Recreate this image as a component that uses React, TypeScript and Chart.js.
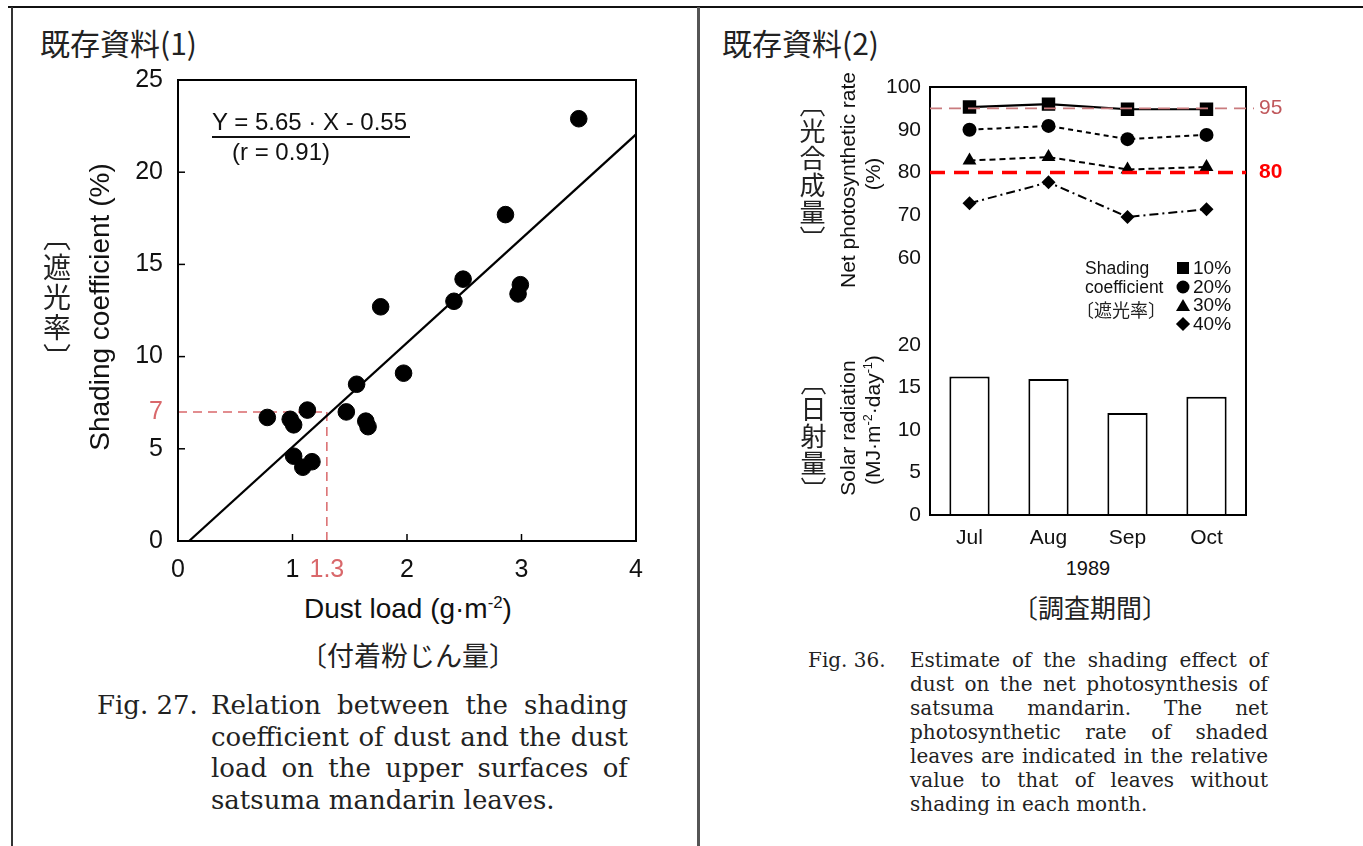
import React, { useEffect, useRef } from "react";
import { Chart, registerables } from "chart.js";

Chart.register(...registerables);

const SANS = '"Liberation Sans", Arial, Helvetica, sans-serif';
const SERIF = '"DejaVu Serif", "Liberation Serif", serif';
const CJK = '"Noto Sans CJK JP", "Noto Sans CJK SC", sans-serif';

// ---------- Fig. 27 (left) data ----------
const dustLoad = [0.78, 0.98, 1.01, 1.13, 1.01, 1.09, 1.17, 1.47, 1.56, 1.64, 1.66, 1.77, 1.97, 2.41, 2.49, 2.97, 2.99, 2.86, 3.5];
const shadingCoef = [6.7, 6.6, 6.3, 7.1, 4.6, 4.0, 4.3, 7.0, 8.5, 6.5, 6.2, 12.7, 9.1, 13.0, 14.2, 13.4, 13.9, 17.7, 22.9];
const regLineX = [0.097, 4.0];
const regLineY = [0.0, 22.05];
const guideX = 1.3;
const guideY = 7;
const dustTicks = [0, 1, 1.3, 2, 3, 4];
const shadeTicks = [0, 5, 7, 10, 15, 20, 25];

// ---------- Fig. 36 (right) data ----------
const months = ["Jul", "Aug", "Sep", "Oct"];
const rate10 = [95.3, 96.0, 94.8, 94.8];
const rate20 = [90.0, 90.9, 87.8, 88.8];
const rate30 = [82.8, 83.6, 80.7, 81.3];
const rate40 = [72.8, 77.7, 69.6, 71.4];
const solarRadiation = [16.3, 16.0, 12.0, 13.9];
const rateTicks = [60, 70, 80, 90, 100];
const solarTicks = [0, 5, 10, 15, 20];
const refLevels = [95, 80];
const refLabels = ["95", "80"];

const GUIDE_RED = "#d9686b";
const refStyles = [
  { color: "#c97b7e", text: "#c0585c", width: 1.6, dash: [12, 7], extend: 8, bold: false },
  { color: "#ff0000", text: "#ff0000", width: 3.5, dash: [15, 9], extend: 0, bold: true },
];

const leftDecor = {
  id: "leftDecor",
  afterDatasetsDraw(chart: any) {
    const { ctx, chartArea: a, scales } = chart;
    ctx.save();
    ctx.strokeStyle = "#000";
    ctx.lineWidth = 1.5;
    dustTicks
      .filter((v) => Number.isInteger(v) && v > 0 && v < 4)
      .forEach((v) => {
        const x = scales.x.getPixelForValue(v);
        ctx.beginPath();
        ctx.moveTo(x, a.bottom);
        ctx.lineTo(x, a.bottom - 7);
        ctx.stroke();
      });
    shadeTicks
      .filter((v) => v % 5 === 0 && v > 0 && v < 25)
      .forEach((v) => {
        const y = scales.y.getPixelForValue(v);
        ctx.beginPath();
        ctx.moveTo(a.left, y);
        ctx.lineTo(a.left + 7, y);
        ctx.stroke();
      });
    ctx.lineWidth = 2;
    ctx.strokeRect(a.left, a.top, a.right - a.left, a.bottom - a.top);
    ctx.restore();
  },
};

const rightDecor = {
  id: "rightDecor",
  afterDatasetsDraw(chart: any) {
    const { ctx, chartArea: a } = chart;
    const yTop = chart.scales.yTop;
    ctx.save();
    ctx.strokeStyle = "#000";
    ctx.lineWidth = 2;
    ctx.strokeRect(a.left, a.top, a.right - a.left, a.bottom - a.top);
    refLevels.forEach((v, i) => {
      const st = refStyles[i];
      const y = yTop.getPixelForValue(v);
      ctx.beginPath();
      ctx.setLineDash(st.dash);
      ctx.strokeStyle = st.color;
      ctx.lineWidth = st.width;
      ctx.moveTo(a.left, y);
      ctx.lineTo(a.right + st.extend, y);
      ctx.stroke();
      ctx.setLineDash([]);
      ctx.fillStyle = st.text;
      ctx.font = `${st.bold ? "bold " : ""}21px ${SANS}`;
      ctx.textBaseline = "middle";
      ctx.textAlign = "left";
      ctx.fillText(refLabels[i], a.right + 13, y);
    });
    ctx.restore();
  },
};

function LeftChart() {
  const ref = useRef<HTMLCanvasElement>(null);
  useEffect(() => {
    const el = ref.current;
    if (!el) return;
    const chart = new Chart(el, {
      type: "scatter",
      data: {
        datasets: [
          {
            label: "points",
            data: dustLoad.map((x, i) => ({ x, y: shadingCoef[i] })),
            backgroundColor: "#000",
            borderColor: "#000",
            pointRadius: 8.3,
            pointHoverRadius: 8.3,
          },
          {
            label: "regression",
            data: regLineX.map((x, i) => ({ x, y: regLineY[i] })),
            showLine: true,
            borderColor: "#000",
            borderWidth: 2.2,
            pointRadius: 0,
          },
          {
            label: "guideH",
            data: [
              { x: 0, y: guideY },
              { x: guideX, y: guideY },
            ],
            showLine: true,
            borderColor: GUIDE_RED,
            borderWidth: 1.5,
            borderDash: [9, 6],
            pointRadius: 0,
          },
          {
            label: "guideV",
            data: [
              { x: guideX, y: 0 },
              { x: guideX, y: guideY },
            ],
            showLine: true,
            borderColor: GUIDE_RED,
            borderWidth: 1.5,
            borderDash: [9, 6],
            pointRadius: 0,
          },
        ],
      },
      options: {
        animation: false,
        responsive: false,
        maintainAspectRatio: false,
        layout: { padding: { left: 0, right: 62, top: 28, bottom: 0 } },
        plugins: { legend: { display: false }, tooltip: { enabled: false } },
        scales: {
          x: {
            type: "linear",
            min: 0,
            max: 4,
            afterBuildTicks: (s: any) => {
              s.ticks = dustTicks.map((v) => ({ value: v }));
            },
            afterFit: (s: any) => {
              s.height = 45;
            },
            grid: { display: false, drawTicks: false },
            border: { display: false },
            ticks: {
              padding: 14,
              maxRotation: 0,
              autoSkip: false,
              font: { family: SANS, size: 25 },
              color: (c: any) => (c.tick && c.tick.value === guideX ? GUIDE_RED : "#111"),
              callback: (v: any) => String(v),
            },
          },
          y: {
            type: "linear",
            min: 0,
            max: 25,
            afterBuildTicks: (s: any) => {
              s.ticks = shadeTicks.map((v) => ({ value: v }));
            },
            afterFit: (s: any) => {
              s.width = 178;
            },
            grid: { display: false, drawTicks: false },
            border: { display: false },
            ticks: {
              padding: 15,
              autoSkip: false,
              font: { family: SANS, size: 25 },
              color: (c: any) => (c.tick && c.tick.value === guideY ? GUIDE_RED : "#111"),
              callback: (v: any) => String(v),
            },
          },
        },
      },
      plugins: [leftDecor],
    });
    return () => chart.destroy();
  }, []);
  return (
    <canvas
      ref={ref}
      width={698}
      height={536}
      style={{ position: "absolute", left: 0, top: 50, width: 698, height: 536 }}
    />
  );
}

function RightChart() {
  const ref = useRef<HTMLCanvasElement>(null);
  useEffect(() => {
    const el = ref.current;
    if (!el) return;
    const lineBase = {
      type: "line" as const,
      yAxisID: "yTop",
      borderColor: "#000",
      borderWidth: 2,
      pointBackgroundColor: "#000",
      pointBorderColor: "#000",
      pointBorderWidth: 0,
      fill: false,
      tension: 0,
    };
    const chart = new Chart(el, {
      type: "bar",
      data: {
        labels: months,
        datasets: [
          { ...lineBase, label: "10%", data: rate10, pointStyle: "rect", pointRadius: 9.5, borderWidth: 2.2 },
          { ...lineBase, label: "20%", data: rate20, pointStyle: "circle", pointRadius: 7, borderDash: [5, 4] },
          { ...lineBase, label: "30%", data: rate30, pointStyle: "triangle", pointRadius: 8, borderDash: [6, 4] },
          { ...lineBase, label: "40%", data: rate40, pointStyle: "rectRot", pointRadius: 7, borderDash: [9, 4, 2, 4] },
          {
            type: "bar",
            label: "Solar radiation",
            data: solarRadiation,
            yAxisID: "yBot",
            backgroundColor: "#fff",
            borderColor: "#000",
            borderWidth: 2,
            barPercentage: 0.51,
            categoryPercentage: 1,
          },
        ] as any,
      },
      options: {
        animation: false,
        responsive: false,
        maintainAspectRatio: false,
        layout: { padding: { left: 0, right: 94, top: 27, bottom: 0 } },
        plugins: { legend: { display: false }, tooltip: { enabled: false } },
        scales: {
          x: {
            type: "category",
            offset: true,
            afterFit: (s: any) => {
              s.height = 40;
            },
            grid: { display: false, drawTicks: false },
            border: { display: false },
            ticks: { padding: 11, font: { family: SANS, size: 21 }, color: "#111" },
          },
          yBot: {
            type: "linear",
            position: "left",
            stack: "panels",
            stackWeight: 197,
            min: 0,
            max: 23.18,
            afterBuildTicks: (s: any) => {
              s.ticks = solarTicks.map((v) => ({ value: v }));
            },
            afterFit: (s: any) => {
              s.width = 230;
            },
            grid: { display: false, drawTicks: false },
            border: { display: false },
            ticks: { padding: 9, autoSkip: false, font: { family: SANS, size: 21 }, color: "#111" },
          },
          yTop: {
            type: "linear",
            position: "left",
            stack: "panels",
            stackWeight: 231,
            min: 45.96,
            max: 100,
            afterBuildTicks: (s: any) => {
              s.ticks = rateTicks.map((v) => ({ value: v }));
            },
            afterFit: (s: any) => {
              s.width = 230;
            },
            grid: { display: false, drawTicks: false },
            border: { display: false },
            ticks: { padding: 9, autoSkip: false, font: { family: SANS, size: 21 }, color: "#111" },
          },
        } as any,
      },
      plugins: [rightDecor],
    });
    return () => chart.destroy();
  }, []);
  return (
    <canvas
      ref={ref}
      width={640}
      height={495}
      style={{ position: "absolute", left: 700, top: 60, width: 640, height: 495 }}
    />
  );
}

type TxtProps = {
  x: number;
  y: number;
  align?: "left" | "center" | "right";
  size: number;
  family?: string;
  color?: string;
  weight?: string | number;
  children: React.ReactNode;
};

function Txt({ x, y, align = "left", size, family = SANS, color = "#111", weight = "normal", children }: TxtProps) {
  const tx = align === "left" ? "0" : align === "center" ? "-50%" : "-100%";
  return (
    <div
      style={{
        position: "absolute",
        left: x,
        top: y,
        transform: `translate(${tx}, -50%)`,
        fontSize: size,
        fontFamily: family,
        color,
        fontWeight: weight as any,
        lineHeight: 1.15,
        whiteSpace: "nowrap",
      }}
    >
      {children}
    </div>
  );
}

function Rot({ x, y, size, children }: { x: number; y: number; size: number; children: React.ReactNode }) {
  return (
    <div
      style={{
        position: "absolute",
        left: x,
        top: y,
        transform: "translate(-50%, -50%) rotate(-90deg)",
        fontSize: size,
        fontFamily: SANS,
        color: "#111",
        lineHeight: 1.15,
        whiteSpace: "nowrap",
      }}
    >
      {children}
    </div>
  );
}

function Vert({ x, y, size, spacing = 0, children }: { x: number; y: number; size: number; spacing?: number; children: React.ReactNode }) {
  return (
    <div
      style={{
        position: "absolute",
        left: x,
        top: y,
        transform: "translate(-50%, -50%)",
        writingMode: "vertical-rl",
        fontSize: size,
        fontFamily: CJK,
        color: "#222",
        lineHeight: 1,
        letterSpacing: spacing,
        whiteSpace: "nowrap",
      }}
    >
      {children}
    </div>
  );
}

function Caption({ x, y, width, size, lineHeight, lines }: { x: number; y: number; width: number; size: number; lineHeight: number; lines: string[] }) {
  return (
    <>
      {lines.map((t, i) => (
        <div
          key={i}
          style={{
            position: "absolute",
            left: x,
            top: y + i * lineHeight - lineHeight / 2,
            width,
            height: lineHeight,
            lineHeight: `${lineHeight}px`,
            fontSize: size,
            fontFamily: SERIF,
            color: "#222",
            textAlign: "justify",
            textAlignLast: i === lines.length - 1 ? "left" : "justify",
            whiteSpace: "nowrap",
          } as any}
        >
          {t}
        </div>
      ))}
    </>
  );
}

const sup = (t: string) => (
  <span style={{ fontSize: "0.6em", verticalAlign: "0.6em" }}>{t}</span>
);

function Shape({ x, y, kind }: { x: number; y: number; kind: string }) {
  const base: any = { position: "absolute", left: x, top: y, transform: "translate(-50%, -50%)" };
  if (kind === "square") return <div style={{ ...base, width: 12, height: 12, background: "#000" }} />;
  if (kind === "circle") return <div style={{ ...base, width: 13, height: 13, borderRadius: "50%", background: "#000" }} />;
  if (kind === "triangle")
    return (
      <div
        style={{
          ...base,
          width: 0,
          height: 0,
          borderLeft: "7px solid transparent",
          borderRight: "7px solid transparent",
          borderBottom: "12px solid #000",
        }}
      />
    );
  return <div style={{ ...base, width: 10, height: 10, background: "#000", transform: "translate(-50%, -50%) rotate(45deg)" }} />;
}

const leftCaption = [
  "Relation between the shading",
  "coefficient of dust and the dust",
  "load on the upper surfaces of",
  "satsuma mandarin leaves.",
];
const rightCaption = [
  "Estimate of the shading effect of",
  "dust on the net photosynthesis of",
  "satsuma mandarin. The net",
  "photosynthetic rate of shaded",
  "leaves are indicated in the relative",
  "value to that of leaves without",
  "shading in each month.",
];
const legendLabels = ["10%", "20%", "30%", "40%"];
const legendShapes = ["square", "circle", "triangle", "diamond"];
const legendRowsY = [268, 287, 305, 324];

export default function App() {
  return (
    <div
      style={{
        position: "absolute",
        left: 0,
        top: 0,
        width: 1363,
        height: 846,
        background: "#fff",
        overflow: "hidden",
        fontFamily: SANS,
      }}
    >
      {/* page frame */}
      <div style={{ position: "absolute", left: 8, top: 6, width: 1355, height: 2, background: "#111" }} />
      <div style={{ position: "absolute", left: 11, top: 7, width: 2, height: 839, background: "#333" }} />
      <div style={{ position: "absolute", left: 697, top: 7, width: 3, height: 839, background: "#555" }} />

      {/* ---------- left figure ---------- */}
      <Txt x={40} y={42} size={30} family={CJK} color="#222">既存資料(1)</Txt>
      <LeftChart />
      <Rot x={100} y={307} size={28}>Shading coefficient (%)</Rot>
      <Vert x={57} y={298} size={28} spacing={2}>〔遮光率〕</Vert>
      <Txt x={408} y={609} align="center" size={28}>
        Dust load (g·m{sup("-2")})
      </Txt>
      <Txt x={408} y={655} align="center" size={27} family={CJK} color="#222">〔付着粉じん量〕</Txt>
      <Txt x={212} y={122} size={24}>Y = 5.65 · X - 0.55</Txt>
      <div style={{ position: "absolute", left: 212, top: 136, width: 198, height: 1.5, background: "#111" }} />
      <Txt x={232} y={152} size={24}>(r = 0.91)</Txt>
      <Txt x={97} y={706} size={26} family={SERIF} color="#222">Fig. 27.</Txt>
      <Caption x={211} y={706} width={417} size={26} lineHeight={31.5} lines={leftCaption} />

      {/* ---------- right figure ---------- */}
      <Txt x={722} y={42} size={30} family={CJK} color="#222">既存資料(2)</Txt>
      <RightChart />
      <Vert x={812} y={172} size={26} spacing={1}>〔光合成量〕</Vert>
      <Rot x={848} y={180} size={21}>Net photosynthetic rate</Rot>
      <Rot x={873} y={174} size={21}>(%)</Rot>
      <Vert x={813} y={437} size={26} spacing={1}>〔日射量〕</Vert>
      <Rot x={848} y={428} size={21}>Solar radiation</Rot>
      <Rot x={873} y={420} size={21}>
        (MJ·m{sup("-2")}·day{sup("-1")})
      </Rot>

      <Txt x={1085} y={268} size={17.5}>Shading</Txt>
      <Txt x={1085} y={287} size={17.5}>coefficient</Txt>
      <Txt x={1076} y={309} size={18} family={CJK} color="#222">〔遮光率〕</Txt>
      {legendLabels.map((l, i) => (
        <React.Fragment key={l}>
          <Shape x={1183} y={legendRowsY[i]} kind={legendShapes[i]} />
          <Txt x={1193} y={legendRowsY[i]} size={19}>{l}</Txt>
        </React.Fragment>
      ))}

      <Txt x={1088} y={568} align="center" size={20}>1989</Txt>
      <Txt x={1090} y={607} align="center" size={26} family={CJK} color="#222">〔調査期間〕</Txt>
      <Txt x={808} y={660} size={20} family={SERIF} color="#222">Fig. 36.</Txt>
      <Caption x={910} y={660} width={358} size={20} lineHeight={24} lines={rightCaption} />
    </div>
  );
}
